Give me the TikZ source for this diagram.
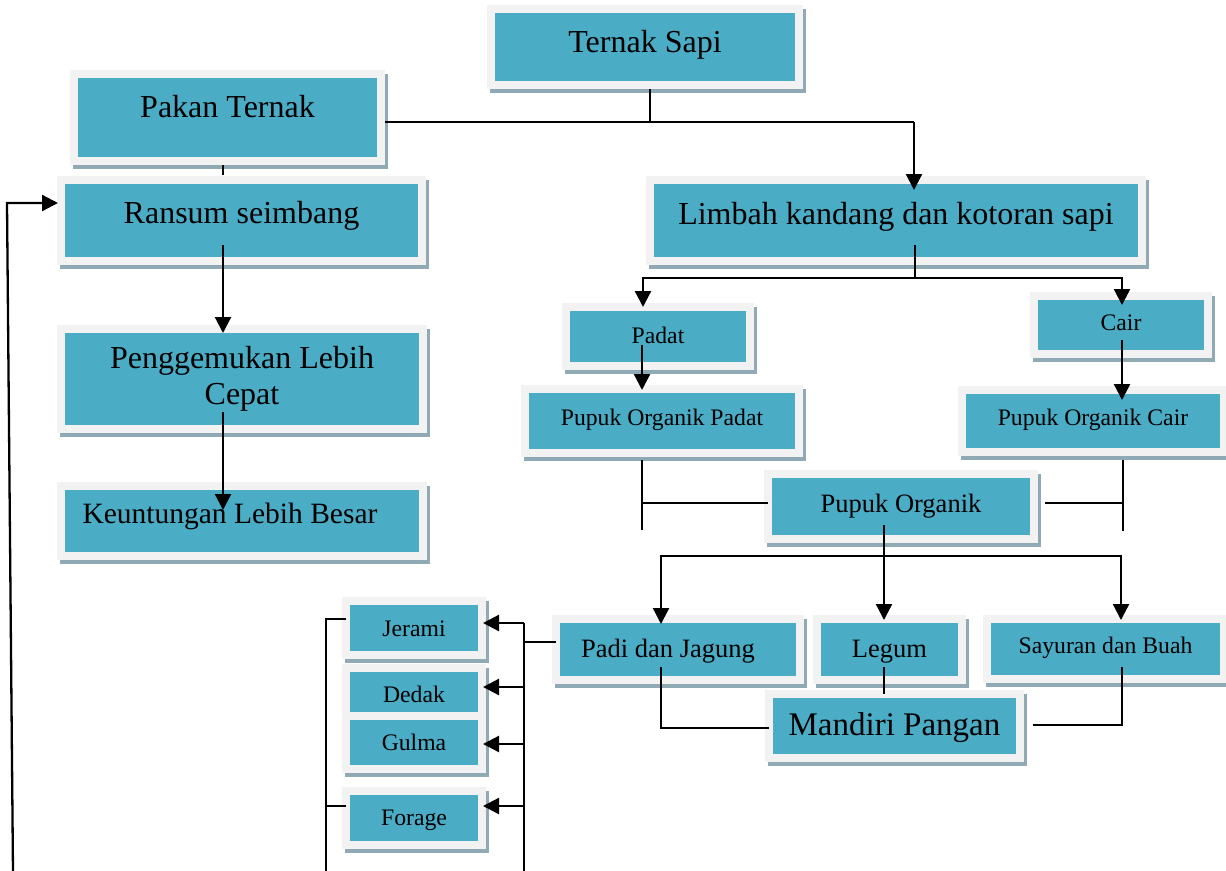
\documentclass[tikz,border=0pt]{standalone}
\usepackage{fontspec}
\setmainfont{Liberation Serif}
\usetikzlibrary{arrows.meta,calc,shadows}
\definecolor{tealc}{RGB}{75,172,198}
\definecolor{framec}{RGB}{242,242,242}
\definecolor{shadowc}{RGB}{143,170,180}
\begin{document}
\begin{tikzpicture}[x=1pt,y=-1pt,
 box/.style={draw=framec, fill=tealc, line width=8pt, inner sep=0pt, outer sep=0pt, align=center, text=black,
   general shadow={draw=shadowc, fill=shadowc, opacity=1, line width=8pt, shadow xshift=3pt, shadow yshift=-4pt}},
 sz/.style 2 args={minimum width=#1pt, minimum height=#2pt},
 bigf/.style={font=\fontsize{32}{36}\selectfont},
 big/.style={bigf, text height=22pt},
 kf/.style={font=\fontsize{29.5}{34}\selectfont, text height=20pt},
 mndf/.style={font=\fontsize{33}{38}\selectfont, text height=22.5pt},
 med/.style={font=\fontsize{26.5}{30}\selectfont, text height=18pt},
 sml/.style={font=\fontsize{23.7}{27}\selectfont, text height=16pt},
 ln/.style={line width=1.6pt},
 arr/.style={line width=2.3pt, -{Triangle[length=16pt,width=16pt]}},
]
\useasboundingbox (0,0) rectangle (1226,870);

% ---------------- boxes ----------------
\node[box,big,sz={308}{76},text depth=12pt] (ts) at (645,47) {Ternak Sapi};
\node[box,big,sz={307}{87},text depth=23pt] (pakan) at (227.5,117.5) {Pakan Ternak};
\node[box,big,sz={361}{81},text depth=17pt] (ransum) at (241.5,220.5) {Ransum seimbang};
\node[box,bigf,sz={362}{100}] (peng) at (242,379) {Penggemukan Lebih\\Cepat};
\node[box,kf,sz={362}{70},text depth=16pt] (keun) at (242,521) {Keuntungan Lebih Besar\hspace*{24pt}};
\node[box,big,sz={492}{81},text depth=15pt] (limbah) at (896,220.5) {Limbah kandang dan kotoran sapi};
\node[box,sml,sz={184}{59},text depth=3pt] (padat) at (658,336.5) {Padat};
\node[box,sml,sz={274}{64},text depth=8pt] (pop) at (662,421) {Pupuk Organik Padat};
\node[box,sml,sz={174}{58},text depth=6pt] (cair) at (1121,325) {Cair};
\node[box,sml,sz={262}{62},text depth=8pt] (poc) at (1093,421) {Pupuk Organik Cair};
\node[box,med,sz={266}{65},text depth=7pt] (po) at (901,506.5) {Pupuk Organik};
\node[box,med,sz={244}{61},text depth=3pt] (padi) at (678,649.5) {Padi dan Jagung\hspace*{20pt}};
\node[box,med,sz={145}{61},text depth=3pt] (legum) at (889.5,649.5) {Legum};
\node[box,sml,sz={237}{60},text depth=8pt] (sayur) at (1105.5,649) {Sayuran dan Buah};
\node[box,mndf,sz={251}{64},text depth=4.5pt] (mandiri) at (894.5,726) {Mandiri Pangan};
\node[box,sml,sz={136}{54},text depth=0pt] (jerami) at (414,628) {Jerami};
\node[box,sml,sz={136}{48},text height=20pt,text depth=0pt] (dedak) at (414,692) {Dedak};
\node[box,sml,sz={136}{53},text depth=1pt] (gulma) at (414,742.5) {Gulma};
\node[box,sml,sz={136}{54},text depth=2pt] (forage) at (414,818) {Forage};

% ---------------- helper coordinates ----------------
\coordinate (busA) at (914,122);
\coordinate (busB) at (915,278);
\coordinate (busC) at (884,556);
\coordinate (pL) at (642,530);
\coordinate (pR) at (1123,531);
\coordinate (poW) at ($(po.west)+(0,-3.5)$);
\coordinate (poE) at ($(po.east)+(11,-3.5)$);
\coordinate (rbTop) at (524,623);
\coordinate (rbBot) at (524,872);
\coordinate (lbBot) at (326,872);
\coordinate (fbB) at (13,872);
\coordinate (fbT) at (7,203);
\coordinate (tJer) at ($(jerami.east)+(1,-5)$);
\coordinate (tDed) at ($(dedak.east)+(1,-5)$);
\coordinate (tGul) at ($(gulma.east)+(1,1.5)$);
\coordinate (tFor) at ($(forage.east)+(1,-12)$);
\coordinate (padiW) at ($(padi.west)+(0,-7.5)$);
\coordinate (jerW) at ($(jerami.west)+(0,-9)$);
\coordinate (forW) at ($(forage.west)+(0,-12)$);
\coordinate (manW) at ($(mandiri.west)+(0,2)$);
\coordinate (manE) at ($(mandiri.east)+(13,-1)$);

% ---------------- connectors ----------------
\draw[ln] ($(pakan.east)+(4,4.5)$) -- (busA);
\draw[line width=2pt] ($(ts.south)+(5,4)$) -- ($(ts.south)+(5,37)$);
\draw[arr] (busA) -- ($(limbah.north)+(18,10)$);

\draw[line width=2pt] ($(pakan.south)+(-4.5,4)$) -- ($(pakan.south)+(-4.5,14)$);
\draw[arr] ($(ransum.center)+(-18.5,24.5)$) -- ($(peng.center)+(-19,-46)$);
\draw[arr] ($(peng.center)+(-19,33)$) -- ($(keun.center)+(-19,-11)$);
\draw[arr] (fbB) -- (fbT) -- ($(ransum.west)+(-3,-17.5)$);

\draw[ln] ($(limbah.center)+(19,24.5)$) -- (busB);
\draw[arr] (busB) -| ($(padat.center)+(-15,-29.5)$);
\draw[arr] (busB) -| ($(cair.center)+(1,-20)$);
\draw[arr] ($(padat.center)+(-16,8.5)$) -- ($(pop.center)+(-20,-31)$);
\draw[arr] ($(cair.center)+(1,15)$) -- ($(poc.center)+(29,-21)$);

\draw[ln] ($(pop.center)+(-20,39)$) -- (pL);
\draw[ln] (poW) -- (pL |- poW);
\draw[ln] ($(poc.center)+(30,39)$) -- (pR);
\draw[ln] (poE) -- (pR |- poE);

\draw[arr] ($(po.center)+(-17,18.5)$) -- ($(legum.center)+(-5.5,-29.5)$);
\draw[arr] (busC) -| ($(padi.center)+(-17,-25.5)$);
\draw[arr] (busC) -| ($(sayur.center)+(15.5,-29)$);

\draw[ln] ($(padi.center)+(-17,17.5)$) |- (manW);
\draw[ln] ($(legum.center)+(-5.5,17.5)$) -- ($(mandiri.north)+(-10.5,0)$);
\draw[ln] ($(sayur.center)+(16.5,18)$) |- (manE);

\draw[ln] (padiW) -- (rbTop |- padiW);
\draw[ln] (rbTop) -- (rbBot);
\draw[arr] (tJer -| rbTop) -- (tJer);
\draw[arr] (tDed -| rbTop) -- (tDed);
\draw[arr] (tGul -| rbTop) -- (tGul);
\draw[arr] (tFor -| rbTop) -- (tFor);
\draw[ln] (jerW) -| (lbBot);
\draw[ln] (forW) -- (forW -| lbBot);
\end{tikzpicture}
\end{document}
